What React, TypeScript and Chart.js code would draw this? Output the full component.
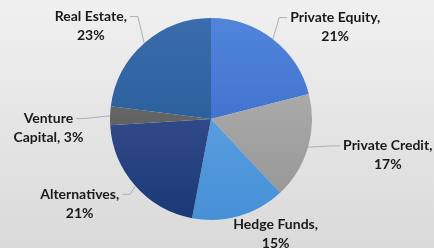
import React, { useEffect, useRef } from "react";
import { Chart, registerables } from "chart.js";

Chart.register(...registerables);

const categories = ["Private Equity", "Private Credit", "Hedge Funds", "Alternatives", "Venture Capital", "Real Estate"];
const shares = [21, 17, 15, 21, 3, 23];

// slice colours (vertical gradient: top -> bottom of the pie)
const topColors = ["#5085da", "#b6b6b6", "#6aaae8", "#47599c", "#777777", "#3b6cab"];
const bottomColors = ["#3263c6", "#949494", "#4690d6", "#1a3876", "#4f4f4f", "#1b5590"];

// label block centres, relative to pie centre, in units of the radius
const labelPlacement = [
  [1.23, -0.91],
  [1.75, 0.36],
  [0.64, 1.14],
  [-1.3, 0.84],
  [-1.61, 0.09],
  [-1.19, -0.92],
];

const FONT = "bold 14px Lato, 'Open Sans', sans-serif";
const LINE_H = 19;
const WRAP_W = 95;

function wrap(ctx: CanvasRenderingContext2D, text: string): string[] {
  const words = text.split(" ");
  const lines: string[] = [];
  let cur = "";
  for (const w of words) {
    const t = cur ? cur + " " + w : w;
    if (cur && ctx.measureText(t).width > WRAP_W) {
      lines.push(cur);
      cur = w;
    } else cur = t;
  }
  if (cur) lines.push(cur);
  return lines;
}

const bgPlugin = {
  id: "bgGrad",
  beforeDraw(chart: any) {
    const { ctx, width, height } = chart;
    const g = ctx.createLinearGradient(0, 0, 0, height);
    g.addColorStop(0, "#f0f0f0");
    g.addColorStop(1, "#dadada");
    ctx.save();
    ctx.fillStyle = g;
    ctx.fillRect(0, 0, width, height);
    ctx.restore();
  },
};

const labelPlugin = {
  id: "outLabels",
  afterDatasetsDraw(chart: any) {
    const ctx = chart.ctx as CanvasRenderingContext2D;
    const meta = chart.getDatasetMeta(0);
    const values = chart.data.datasets[0].data as number[];
    const labels = chart.data.labels as string[];
    ctx.save();
    ctx.font = FONT;
    meta.data.forEach((arc: any, i: number) => {
      const p = arc.getProps(["x", "y", "startAngle", "endAngle", "outerRadius"], true);
      const mid = (p.startAngle + p.endAngle) / 2;
      const r = p.outerRadius;
      const ex = p.x + r * Math.cos(mid);
      const ey = p.y + r * Math.sin(mid);
      const cx = p.x + labelPlacement[i][0] * r;
      const cy = p.y + labelPlacement[i][1] * r;
      const lines = wrap(ctx, `${labels[i]}, ${values[i]}%`);
      const firstY = cy - ((lines.length - 1) * LINE_H) / 2;
      const halfW = ctx.measureText(lines[0]).width / 2;
      const right = cx > p.x;
      // leader line
      if (Math.abs(ex - cx) > halfW) {
        const tx = right ? cx - halfW - 3 : cx + halfW + 3;
        const elx = right ? tx - 8 : tx + 8;
        ctx.strokeStyle = "#a9b1bb";
        ctx.lineWidth = 1;
        ctx.beginPath();
        ctx.moveTo(ex, ey);
        ctx.lineTo(elx, firstY);
        ctx.lineTo(tx, firstY);
        ctx.stroke();
      }
      ctx.fillStyle = "#1a1a1a";
      ctx.textAlign = "center";
      ctx.textBaseline = "middle";
      lines.forEach((ln, k) => ctx.fillText(ln, cx, firstY + k * LINE_H));
    });
    ctx.restore();
  },
};

export default function App() {
  const ref = useRef<HTMLCanvasElement>(null);
  useEffect(() => {
    document.body.style.margin = "0";
    const canvas = ref.current!;
    const chart = new Chart(canvas, {
      type: "pie",
      data: {
        labels: categories,
        datasets: [
          {
            data: shares,
            borderWidth: 0,
            backgroundColor: (c: any) => {
              const area = c.chart.chartArea;
              const i = c.dataIndex;
              if (!area) return topColors[i];
              const g = c.chart.ctx.createLinearGradient(0, area.top, 0, area.bottom);
              g.addColorStop(0, topColors[i]);
              g.addColorStop(1, bottomColors[i]);
              return g;
            },
          },
        ],
      },
      options: {
        responsive: false,
        animation: false,
        devicePixelRatio: 1,
        layout: { padding: { left: 0, right: 12, top: 18, bottom: 28 } },
        plugins: { legend: { display: false }, tooltip: { enabled: false } },
      },
      plugins: [bgPlugin, labelPlugin],
    });
    return () => chart.destroy();
  }, []);
  return <canvas ref={ref} width={434} height={248} style={{ display: "block" }} />;
}
